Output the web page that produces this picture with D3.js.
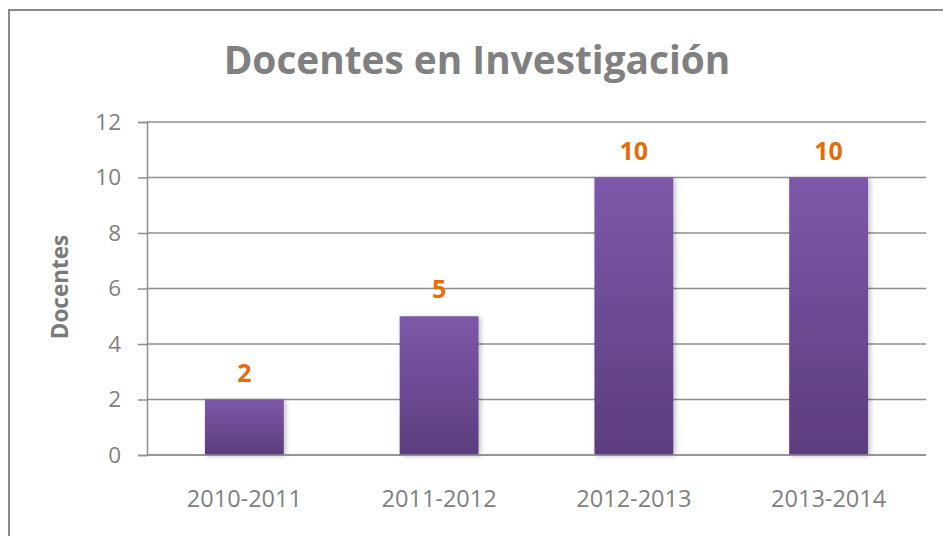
<!DOCTYPE html>
<html><head><meta charset="utf-8">
<script src="https://cdn.jsdelivr.net/npm/d3@7"></script>
<style>html,body{margin:0;padding:0;background:#fff;}svg{display:block;}</style>
</head><body>
<svg id="chart" width="943" height="536"></svg>
<script>
const title = "Docentes en Investigación";
const yTitle = "Docentes";
const categories = ["2010-2011", "2011-2012", "2012-2013", "2013-2014"];
const values = [2, 5, 10, 10];
const yTicks = [0, 2, 4, 6, 8, 10, 12];

const svg = d3.select("#chart");
const W = 943, H = 536;
const m = {left: 147, right: 926, top: 122, bottom: 455};
const font = "'Open Sans', sans-serif";
const gray = "#808080";

const defs = svg.append("defs");
const grad = defs.append("linearGradient").attr("id", "barGrad")
  .attr("x1", 0).attr("y1", 0).attr("x2", 0).attr("y2", 1);
grad.append("stop").attr("offset", "0%").attr("stop-color", "#7D58A9");
grad.append("stop").attr("offset", "100%").attr("stop-color", "#5B3D7D");
const f = defs.append("filter").attr("id", "shadow").attr("x", "-20%").attr("y", "-20%").attr("width", "140%").attr("height", "140%");
f.append("feDropShadow").attr("dx", 2).attr("dy", 1).attr("stdDeviation", 2.5)
  .attr("flood-color", "#000").attr("flood-opacity", 0.25);

// outer border (right/bottom edges lie outside the viewport)
svg.append("rect").attr("x", 9).attr("y", 10).attr("width", W + 20).attr("height", H + 20)
  .attr("fill", "#fff").attr("stroke", "#8a8a8a").attr("stroke-width", 2);

const x = d3.scaleBand().domain(categories).range([m.left, m.right])
  .paddingInner(0.595).paddingOuter(0.2975);
const y = d3.scaleLinear().domain([0, 12]).range([m.bottom, m.top]);

// gridlines
svg.append("g").selectAll("line").data(yTicks).join("line")
  .attr("x1", m.left).attr("x2", m.right)
  .attr("y1", d => y(d)).attr("y2", d => y(d))
  .attr("stroke", "#8e8e8e").attr("stroke-width", 1.5);

// y axis
const yAxis = svg.append("g").attr("transform", `translate(${m.left},0)`)
  .call(d3.axisLeft(y).tickValues(yTicks).tickSize(9).tickPadding(17).tickFormat(d3.format("d")));
yAxis.select(".domain").attr("stroke", "#8e8e8e").attr("stroke-width", 1.5);
yAxis.selectAll(".tick line").attr("stroke", "#8e8e8e").attr("stroke-width", 1.5);
yAxis.selectAll("text").attr("fill", gray).attr("font-family", font).attr("font-size", 22.5);

// bars
svg.append("g").selectAll("rect").data(values).join("rect")
  .attr("x", (d, i) => x(categories[i]))
  .attr("width", x.bandwidth())
  .attr("y", d => y(d))
  .attr("height", d => y(0) - y(d))
  .attr("fill", "url(#barGrad)")
  .attr("filter", "url(#shadow)");

// baseline redraw over shadow
svg.append("line").attr("x1", m.left).attr("x2", m.right).attr("y1", y(0)).attr("y2", y(0))
  .attr("stroke", "#8e8e8e").attr("stroke-width", 1.5);

// value labels
svg.append("g").selectAll("text").data(values).join("text")
  .attr("x", (d, i) => x(categories[i]) + x.bandwidth() / 2)
  .attr("y", d => y(d) - 18)
  .attr("text-anchor", "middle")
  .attr("font-family", font).attr("font-weight", "bold").attr("font-size", 25)
  .attr("fill", "#E46C0A")
  .text(d => d);

// x axis labels
const xAxis = svg.append("g").attr("transform", `translate(0,${m.bottom})`)
  .call(d3.axisBottom(x).tickSize(0).tickPadding(35));
xAxis.select(".domain").remove();
xAxis.selectAll("text").attr("fill", gray).attr("font-family", font).attr("font-size", 23.5);

// title
svg.append("text").attr("x", 477).attr("y", 74).attr("text-anchor", "middle")
  .attr("font-family", font).attr("font-weight", "bold").attr("font-size", 38.8)
  .attr("fill", gray).text(title);

// y axis title
svg.append("text").attr("transform", `translate(68,287) rotate(-90)`)
  .attr("text-anchor", "middle")
  .attr("font-family", font).attr("font-weight", "bold").attr("font-size", 22.5)
  .attr("fill", "#7a7a7a").text(yTitle);
</script>
</body></html>
